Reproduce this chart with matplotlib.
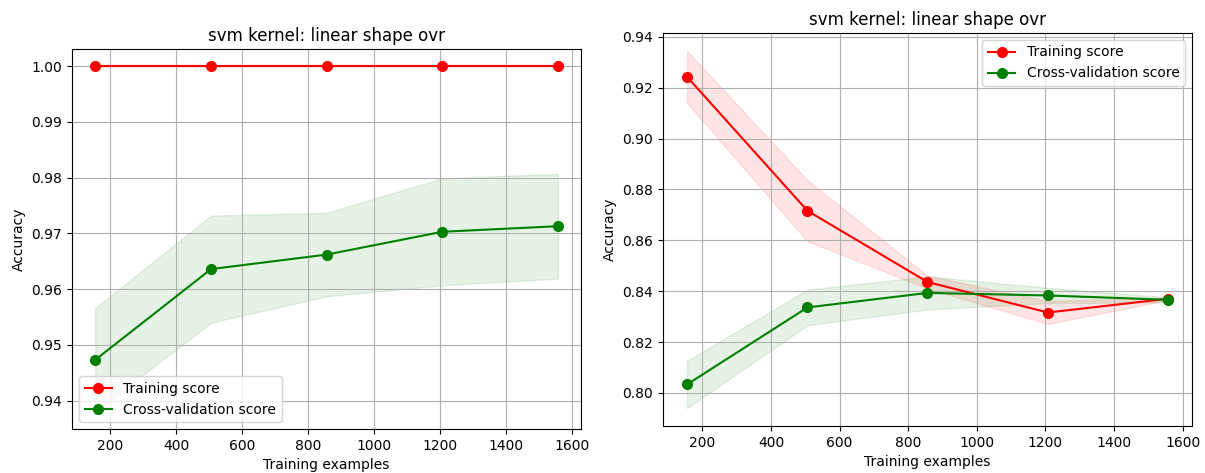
import numpy as np
import matplotlib
matplotlib.use('Agg')
import matplotlib.pyplot as plt

# Tamanhos de treino (comuns aos dois gráficos)
train_sizes = np.array([155, 506, 856, 1207, 1557])

# Gráfico esquerdo
left_train_mean = np.array([1.0, 1.0, 1.0, 1.0, 1.0])
left_train_std = np.array([0.0, 0.0, 0.0, 0.0, 0.0])
left_cv_mean = np.array([0.9473, 0.9636, 0.9662, 0.9703, 0.9713])
left_cv_std = np.array([0.0093, 0.0096, 0.0075, 0.0096, 0.0094])

# Gráfico direito
right_train_mean = np.array([0.9243, 0.8716, 0.8436, 0.8316, 0.8370])
right_train_std = np.array([0.0102, 0.0120, 0.0025, 0.0045, 0.0005])
right_cv_mean = np.array([0.8033, 0.8336, 0.8393, 0.8383, 0.8366])
right_cv_std = np.array([0.0093, 0.0070, 0.0065, 0.0030, 0.0010])

title = 'svm kernel: linear shape ovr'

fig = plt.figure(figsize=(12.05, 4.73), dpi=100)
ax1 = fig.add_axes([0.0598, 0.0930, 0.4224, 0.8034])
ax2 = fig.add_axes([0.5502, 0.0994, 0.4390, 0.8309])


def curva(ax, tr_m, tr_s, cv_m, cv_s, loc):
    ax.grid(True, color='#b0b0b0', linewidth=0.8)
    ax.fill_between(train_sizes, tr_m - tr_s, tr_m + tr_s, alpha=0.1, color='r')
    ax.fill_between(train_sizes, cv_m - cv_s, cv_m + cv_s, alpha=0.1, color='g')
    ax.plot(train_sizes, tr_m, 'o-', color='r', label='Training score', markersize=7)
    ax.plot(train_sizes, cv_m, 'o-', color='g', label='Cross-validation score', markersize=7)
    ax.set_title(title, fontsize=12)
    ax.set_xlabel('Training examples')
    ax.set_ylabel('Accuracy')
    ax.set_xticks([200, 400, 600, 800, 1000, 1200, 1400, 1600])
    ax.legend(loc=loc, fontsize=10)


curva(ax1, left_train_mean, left_train_std, left_cv_mean, left_cv_std, 'lower left')
ax1.set_yticks([0.94, 0.95, 0.96, 0.97, 0.98, 0.99, 1.00])
curva(ax2, right_train_mean, right_train_std, right_cv_mean, right_cv_std, 'upper right')

plt.savefig('out.png', dpi=100)
